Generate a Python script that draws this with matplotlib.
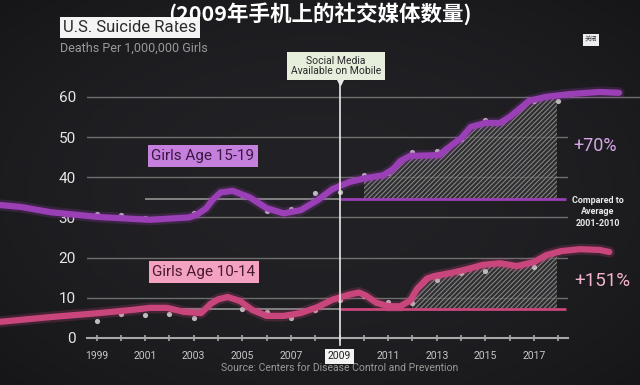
import numpy as np
import matplotlib
matplotlib.use("Agg")
import matplotlib.pyplot as plt
from matplotlib.patches import Rectangle

plt.rcParams['font.family'] = ['Roboto', 'Noto Sans CJK SC', 'DejaVu Sans']
plt.rcParams['hatch.linewidth'] = 0.8

# yearly data points (deaths per 1,000,000 girls)
years = list(range(1999, 2019))
girls_15_19 = [30.8, 30.6, 29.9, 29.9, 31.1, 35.8, 35.6, 31.5, 32.1, 36.0,
               36.3, 40.5, 41.0, 46.3, 46.5, 49.5, 54.2, 55.2, 59.0, 59.0]
girls_10_14 = [4.2, 6.0, 5.7, 6.0, 5.0, 9.7, 7.2, 6.5, 5.0, 7.0,
               9.5, 10.5, 9.0, 8.7, 14.5, 16.2, 16.7, 18.4, 17.7, 21.4]

# stylised trend curves as drawn on the chart
curve_15_19_x = [1995.0, 1995.9, 1997.1, 1999.1, 2001.2, 2002.8, 2003.1, 2003.5, 2003.8,
                 2004.1, 2004.6, 2005.3, 2006.0, 2006.7, 2007.4, 2008.1, 2008.7, 2009.4,
                 2010.1, 2010.8, 2011.2, 2011.5, 2011.9, 2013.1, 2013.4, 2014.0, 2014.4,
                 2015.0, 2015.6, 2016.0, 2016.4, 2016.8, 2017.5, 2018.5, 2019.7, 2020.5]
curve_15_19_y = [33.1, 32.6, 31.3, 30.1, 29.4, 30.0, 30.6, 32.2, 34.5,
                 36.2, 36.6, 35.0, 32.3, 31.0, 31.8, 34.3, 37.0, 38.8,
                 39.8, 40.5, 42.0, 44.0, 45.3, 45.5, 47.0, 49.7, 52.5,
                 53.5, 53.5, 55.0, 57.0, 59.0, 60.0, 60.7, 61.2, 61.0]
curve_10_14_x = [1995.0, 1997.1, 1999.1, 2000.5, 2001.2, 2001.9, 2002.6, 2003.3, 2003.7,
                 2004.0, 2004.4, 2004.9, 2005.4, 2006.0, 2006.7, 2007.4, 2008.1, 2008.7,
                 2009.4, 2009.8, 2010.1, 2010.5, 2011.0, 2011.5, 2011.9, 2012.2, 2012.6,
                 2012.9, 2013.6, 2014.3, 2014.9, 2015.6, 2016.3, 2017.0, 2017.5, 2018.1,
                 2018.9, 2019.7, 2020.1]
curve_10_14_y = [4.0, 5.2, 6.2, 7.0, 7.5, 7.5, 6.5, 6.2, 8.5,
                 9.6, 10.2, 9.2, 7.0, 5.5, 5.5, 6.2, 7.7, 9.5,
                 10.8, 11.3, 10.5, 8.8, 7.9, 7.9, 9.3, 12.3, 14.8,
                 15.4, 16.2, 17.2, 18.2, 18.6, 17.9, 18.9, 20.6, 21.6,
                 22.1, 21.9, 21.4]

avg_15_19 = 34.6   # average 2001-2010
avg_10_14 = 7.3
yticks = [0, 10, 20, 30, 40, 50, 60]
xlabels = {y: str(y) for y in range(1999, 2019, 2)}

purple = '#9a3fb6'
pink = '#c9467c'
bg = '#1b1a1e'


def fp(x, y):
    return x / 640, 1 - y / 385


fig = plt.figure(figsize=(6.4, 3.85), dpi=100, facecolor=bg)

# background with soft vignette
bax = fig.add_axes([0, 0, 1, 1], zorder=-10)
gx, gy = np.meshgrid(np.linspace(-1, 1, 200), np.linspace(-1, 1, 120))
shade = 1 - 0.35 * (gx ** 2 + gy ** 2) / 2
base = np.array([0x22, 0x21, 0x25]) / 255
bax.imshow(shade[..., None] * base, aspect='auto', extent=[0, 1, 0, 1])
bax.axis('off')

ax = fig.add_axes([0.136, 0.1221, 0.7515, 0.6473])
ax.patch.set_alpha(0)
ax.set_xlim(1998.61, 2018.40)
ax.set_ylim(0, 62)

for s in ['top', 'right', 'left']:
    ax.spines[s].set_visible(False)
ax.spines['bottom'].set_color('#a8a8a8')
ax.spines['bottom'].set_linewidth(1.5)

ax.set_yticks(yticks)
ax.yaxis.grid(True, color='#6e6e6e', lw=1)
ax.hlines(60, 2018.4, 2021.4, color='#6e6e6e', lw=1, clip_on=False)
ax.set_axisbelow(True)
ax.tick_params(axis='y', length=0, pad=8, labelsize=11, labelcolor='#e6e6e6')
ax.set_xticks(years)
ax.set_xticklabels([xlabels.get(y, '') for y in years])
ax.tick_params(axis='x', direction='inout', length=5, width=1.2, color='#a8a8a8',
               labelsize=7.5, labelcolor='#c8c8c8', pad=7)
for lab in ax.get_xticklabels():
    if lab.get_text() == '2009':
        lab.set_color('#222222')
        lab.set_bbox(dict(boxstyle='square,pad=0.25', fc='#f2f2f2', ec='none'))

# average reference lines
for avg, col in [(avg_15_19, purple), (avg_10_14, pink)]:
    ax.hlines(avg, 2001, 2009, color='#8a8a8a', lw=1.3, zorder=2)
    ax.hlines(avg, 2009, 2018.3, color=col, lw=2, zorder=2)

# hatched increase areas
for cx, cy, avg, x0 in [(curve_15_19_x, curve_15_19_y, avg_15_19, 2010.0),
                        (curve_10_14_x, curve_10_14_y, avg_10_14, 2012.0)]:
    poly = ax.fill_between(cx, cy, avg, facecolor='#3a3a3a', alpha=0.6,
                           edgecolor='#bcbcbc', hatch='///////', lw=0, zorder=1)
    poly.set_clip_path(Rectangle((x0, 0), 2017.95 - x0, 70, transform=ax.transData))

# data dots
ax.scatter(years, girls_15_19, s=14, color='#bdbdbd', zorder=3, lw=0)
ax.scatter(years, girls_10_14, s=14, color='#bdbdbd', zorder=3, lw=0)

# trend curves with glow
for cx, cy, col in [(curve_15_19_x, curve_15_19_y, purple),
                    (curve_10_14_x, curve_10_14_y, pink)]:
    ax.plot(cx, cy, color=col, lw=8, alpha=0.22, solid_capstyle='round', clip_on=False, zorder=4)
    ax.plot(cx, cy, color=col, lw=4.5, solid_capstyle='round', solid_joinstyle='round',
            clip_on=False, zorder=5)

# 2009 marker line
ax.axvline(2009, ymin=-0.03, ymax=1.04, color='#e8e8e8', lw=1.2, clip_on=False, zorder=6)
ax.plot([2009], [63.6], marker='v', ms=4, color='#e8e8e8', clip_on=False, zorder=6)
fig.text(*fp(336, 66), 'Social Media\nAvailable on Mobile', ha='center', va='center',
         fontsize=7.5, color='#2a2a2a', linespacing=1.1,
         bbox=dict(boxstyle='square,pad=0.35', fc='#e6eedc', ec='none'))

# titles
fig.text(*fp(63, 27), 'U.S. Suicide Rates', ha='left', va='center', fontsize=12,
         color='#2a2a2a', bbox=dict(boxstyle='square,pad=0.18', fc='#f4f4f4', ec='none'))
fig.text(*fp(60, 48), 'Deaths Per 1,000,000 Girls', ha='left', va='center',
         fontsize=9, color='#9a9a9a')
fig.text(*fp(320, 14), '(2009年手机上的社交媒体数量)', ha='center', va='center',
         fontsize=15.5, weight='bold', color='white',
         family=['Noto Sans CJK SC', 'DejaVu Sans'])
fig.text(*fp(591, 40), '关闭', ha='center', va='center', fontsize=4.5, color='#333333',
         family=['Noto Sans CJK SC'],
         bbox=dict(boxstyle='square,pad=0.3', fc='#eeeeee', ec='none'))

# series labels
fig.text(*fp(203, 156), 'Girls Age 15-19', ha='center', va='center', fontsize=11,
         color='#3a1842', bbox=dict(boxstyle='square,pad=0.25', fc='#c57fdc', ec='none'))
fig.text(*fp(204, 272), 'Girls Age 10-14', ha='center', va='center', fontsize=11,
         color='#4a1a2e', bbox=dict(boxstyle='square,pad=0.25', fc='#f3a2c2', ec='none'))

# right-hand annotations
fig.text(*fp(595, 146), '+70%', ha='center', va='center', fontsize=13, color='#d6a6e6')
fig.text(*fp(598, 212), 'Compared to\nAverage\n2001-2010', ha='center', va='center',
         fontsize=6.5, weight='bold', color='#e8e8e8', linespacing=1.3)
fig.text(*fp(602, 281), '+151%', ha='center', va='center', fontsize=13.5, color='#f2b4cc')

fig.text(*fp(340, 368), 'Source: Centers for Disease Control and Prevention',
         ha='center', va='center', fontsize=7.5, color='#9a9a9a')

fig.savefig('out.png', dpi=100, facecolor=bg)
